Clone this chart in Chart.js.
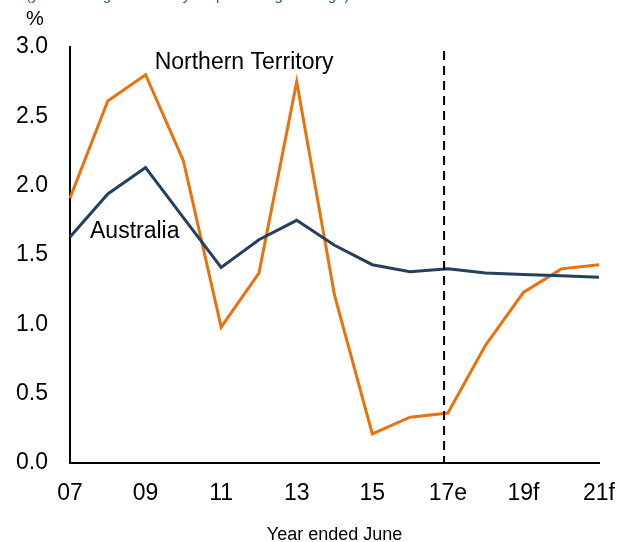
<!DOCTYPE html>
<html>
<head>
<meta charset="utf-8">
<script src="https://cdn.jsdelivr.net/npm/chart.js@4/dist/chart.umd.min.js"></script>
<style>
  html, body { margin: 0; padding: 0; background: #ffffff; }
  #wrap { width: 632px; height: 542px; position: relative; }
</style>
</head>
<body>
<div id="wrap"><canvas id="c" width="632" height="542"></canvas></div>
<script>
// ---- Data ----
const years = ['07','08','09','10','11','12','13','14','15','16','17e','18f','19f','20f','21f'];
const northernTerritory = [1.91, 2.61, 2.80, 2.18, 0.98, 1.37, 2.75, 1.21, 0.21, 0.33, 0.36, 0.85, 1.23, 1.40, 1.43];
const australia = [1.63, 1.94, 2.13, 1.77, 1.41, 1.61, 1.75, 1.57, 1.43, 1.38, 1.40, 1.37, 1.36, 1.35, 1.34];
const yTicks = [0, 0.5, 1.0, 1.5, 2.0, 2.5, 3.0];
const forecastStart = 9.9; // position of dashed divider (index on category axis)
const subtitleText = '(year-average financial year percentage change)';

const FONT = 'Arial, "Liberation Sans", sans-serif';

const overlay = {
  id: 'overlay',
  afterDraw(chart) {
    const {ctx, chartArea, scales: {x, y}} = chart;
    ctx.save();
    // dashed divider
    const xd = x.getPixelForValue(forecastStart);
    ctx.strokeStyle = '#000';
    ctx.lineWidth = 2;
    ctx.setLineDash([9, 6]);
    ctx.beginPath();
    ctx.moveTo(xd, chartArea.top + 4);
    ctx.lineTo(xd, chartArea.bottom);
    ctx.stroke();
    ctx.setLineDash([]);

    // series labels
    ctx.fillStyle = '#000';
    ctx.font = '23px ' + FONT;
    ctx.textBaseline = 'middle';
    ctx.textAlign = 'left';
    ctx.fillText('Northern Territory', x.getPixelForValue(2.24), y.getPixelForValue(2.885));
    ctx.fillText('Australia', x.getPixelForValue(0.53), y.getPixelForValue(1.67));

    // unit label
    ctx.font = '20px ' + FONT;
    ctx.textAlign = 'center';
    ctx.fillText('%', 35, 19);

    // cut-off subtitle
    ctx.fillStyle = '#1F5C99';
    ctx.font = '15px ' + FONT;
    ctx.textAlign = 'left';
    ctx.textBaseline = 'alphabetic';
    ctx.fillText(subtitleText, 26, 0);
    ctx.restore();
  }
};

new Chart(document.getElementById('c'), {
  type: 'line',
  data: {
    labels: years,
    datasets: [
      {
        label: 'Australia',
        data: australia,
        borderColor: '#243F60',
        borderWidth: 3,
        pointRadius: 0,
        tension: 0,
        fill: false
      },
      {
        label: 'Northern Territory',
        data: northernTerritory,
        borderColor: '#E8720C',
        borderWidth: 3,
        pointRadius: 0,
        tension: 0,
        fill: false
      }
    ]
  },
  options: {
    responsive: false,
    animation: false,
    devicePixelRatio: 1,
    layout: { padding: { top: 47, right: 31, bottom: 0, left: 0 } },
    plugins: {
      legend: { display: false },
      tooltip: { enabled: false },
      title: { display: false }
    },
    scales: {
      x: {
        type: 'category',
        offset: false,
        grid: { display: false, drawTicks: false },
        border: { display: true, color: '#000', width: 2 },
        ticks: {
          autoSkip: false,
          maxRotation: 0,
          padding: 17,
          color: '#000',
          font: { family: FONT, size: 23 },
          callback: function (v, i) { return i % 2 === 0 ? years[i] : ''; }
        },
        title: {
          display: true,
          text: 'Year ended June',
          color: '#000',
          font: { family: FONT, size: 18, lineHeight: 0.8 },
          padding: { top: 0, bottom: 0 }
        },
        afterFit(s) { s.height = 79; }
      },
      y: {
        min: 0,
        max: 3,
        afterBuildTicks(s) { s.ticks = yTicks.map(v => ({ value: v })); },
        grid: { display: false, drawTicks: false },
        border: { display: true, color: '#000', width: 2 },
        ticks: {
          padding: 22,
          color: '#000',
          font: { family: FONT, size: 23 },
          callback: v => Number(v).toFixed(1)
        },
        afterFit(s) { s.width = 70; }
      }
    }
  },
  plugins: [overlay]
});
</script>
</body>
</html>
